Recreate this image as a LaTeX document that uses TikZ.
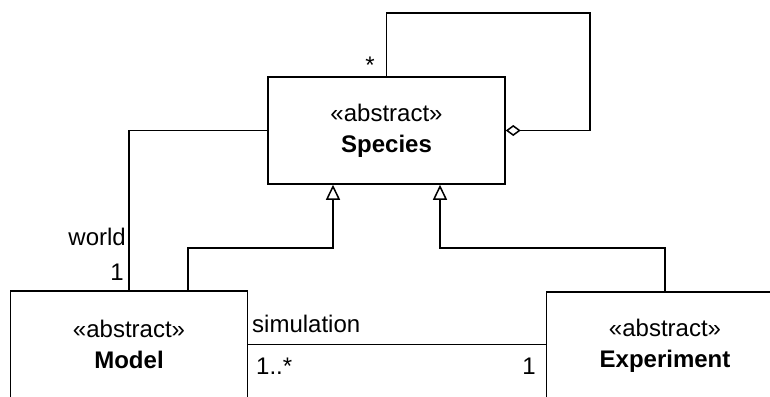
\documentclass[tikz,border=0pt]{standalone}
\usepackage{fontspec}
\setmainfont{Liberation Sans}
\usetikzlibrary{arrows.meta,calc,positioning}

\begin{document}
\begin{tikzpicture}[x=1pt,y=-1pt,
    class/.style={draw,line width=1.5pt,minimum width=237pt,minimum height=107pt,
                  inner sep=0pt,align=center,font=\fontsize{24}{31}\selectfont},
    assoc/.style={line width=1.5pt},
    inherit/.style={assoc,-{Triangle[open,length=15pt,width=14pt]}},
    aggr/.style={assoc,-{Diamond[open,length=15pt,width=11pt]}},
    lbl/.style={font=\fontsize{24}{28}\selectfont,inner sep=0pt,anchor=base}]
%
  \useasboundingbox (0,0) rectangle (770,396);
  \clip (0,0) rectangle (770,396);
%
  \node [class] (species)    at (386.5,130.5) {«abstract»\\\textbf{Species}};
  \node [class] (model)      at (129,344.5)   {«abstract»\\\textbf{Model}};
  \node [class] (experiment) at (665,345.5)   {«abstract»\\\textbf{Experiment}};
%
  \coordinate (loop)  at (590,13);
  \coordinate (mbend) at (333,248);
  \coordinate (ebend) at (440,248);
%
  % self aggregation
  \draw [aggr] (species.north) |- (loop) |- (species.east);
  \node [lbl] at (370,74) {*};

  % world
  \draw [assoc] (species.west) -| (model.north);
  \node [lbl,anchor=base east] at (126,245) {world};
  \node [lbl,anchor=base east] at (124,280) {1};

  % generalisations
  \draw [inherit] ([xshift=59pt]model.north) |- (mbend) -- (mbend |- species.south);
  \draw [inherit] (experiment.north) |- (ebend) -- (ebend |- species.south);

  % simulation
  \draw [assoc] (model.east) -- (model.east -| experiment.west);
  \node [lbl,anchor=base west] at (252,332) {simulation};
  \node [lbl,anchor=base west] at (256,374) {1..*};
  \node [lbl] at (529,374) {1};
\end{tikzpicture}
\end{document}
